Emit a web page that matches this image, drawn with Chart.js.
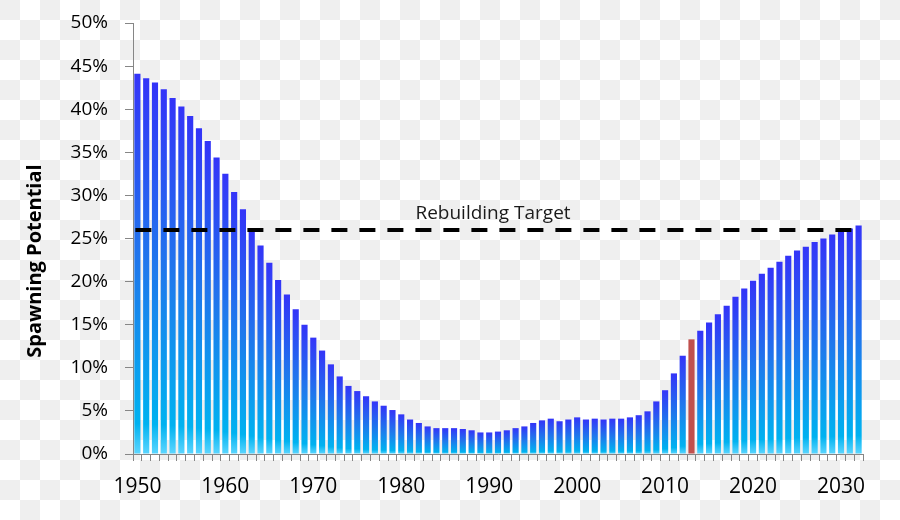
<!DOCTYPE html>
<html>
<head>
<meta charset="utf-8">
<script src="https://cdn.jsdelivr.net/npm/chart.js@4/dist/chart.umd.min.js"></script>
<style>
  html, body { margin: 0; padding: 0; background: #ffffff; }
  body { width: 900px; height: 520px; overflow: hidden; }
  canvas { display: block; }
</style>
</head>
<body>
<canvas id="c" width="900" height="520"></canvas>
<script>
// ---- data ----
const years = [];
for (let y = 1950; y <= 2032; y++) years.push(y);

const spawningPotential = [
  44.1, 43.6, 43.1, 42.3, 41.3, 40.3, 39.2, 37.8, 36.3, 34.4,   // 1950-1959
  32.5, 30.4, 28.4, 26.2, 24.2, 22.2, 20.2, 18.5, 16.8, 15.0,   // 1960-1969
  13.5, 12.0, 10.4, 9.0, 7.9, 7.3, 6.7, 6.1, 5.6, 5.1,          // 1970-1979
  4.6, 4.0, 3.6, 3.2, 3.0, 3.0, 3.0, 2.9, 2.75, 2.5,            // 1980-1989
  2.5, 2.6, 2.75, 3.0, 3.2, 3.6, 3.9, 4.1, 3.8, 4.0,            // 1990-1999
  4.25, 4.0, 4.1, 4.0, 4.1, 4.1, 4.25, 4.5, 4.95, 6.1,          // 2000-2009
  7.4, 9.35, 11.4, 13.3, 14.3, 15.25, 16.2, 17.2, 18.25, 19.2,  // 2010-2019
  20.1, 20.9, 21.6, 22.3, 23.0, 23.6, 24.05, 24.6, 25.0, 25.45, // 2020-2029
  25.8, 26.15, 26.5                                             // 2030-2032
];

const highlightYear = 2013;
const rebuildingTarget = 26;
const targetLabel = 'Rebuilding Target';
const yAxisTitle = 'Spawning Potential';
const yTickValues = [0, 5, 10, 15, 20, 25, 30, 35, 40, 45, 50];

// ---- styles ----
const FONT = '"Open Sans", "Noto Sans", sans-serif';
const AXIS_GRAY = '#868686';
const RED = '#C0504D';

function barColor(ctx) {
  const chart = ctx.chart;
  if (ctx.type !== 'data' || !chart.chartArea) return '#2A6CF0';
  if (years[ctx.dataIndex] === highlightYear) return RED;
  const ys = chart.scales.y;
  const top = ys.getPixelForValue(spawningPotential[ctx.dataIndex]);
  const bottom = ys.getPixelForValue(0);
  if (!isFinite(top) || !isFinite(bottom) || bottom - top < 1) return '#00B0F0';
  const g = chart.ctx.createLinearGradient(0, top, 0, bottom);
  g.addColorStop(0, '#3434F8');
  g.addColorStop(0.5, '#1F78EC');
  g.addColorStop(0.92, '#00B2F0');
  g.addColorStop(1, '#5CD6FF');
  return g;
}

const overlayPlugin = {
  id: 'overlay',
  beforeDraw(chart) {
    // checkerboard backdrop (transparent-background look of the reference)
    const {ctx, width, height} = chart;
    ctx.save();
    ctx.fillStyle = '#ffffff';
    ctx.fillRect(0, 0, width, height);
    ctx.fillStyle = '#efefef';
    for (let r = 0; r * 20 < height; r++) {
      for (let c = 0; c * 20 < width; c++) {
        if ((r + c) % 2 === 0) ctx.fillRect(c * 20, r * 20, 20, 20);
      }
    }
    ctx.restore();
  },
  afterDatasetsDraw(chart) {
    const {ctx, scales: {x, y}} = chart;
    const yPix = y.getPixelForValue(rebuildingTarget);
    const x0 = x.getPixelForValue(0);
    const x1 = x.getPixelForValue(years.length - 1);
    ctx.save();
    ctx.beginPath();
    ctx.setLineDash([16, 12]);
    ctx.lineWidth = 4;
    ctx.strokeStyle = '#000000';
    ctx.lineCap = 'butt';
    ctx.moveTo(x0 - 2, yPix);
    ctx.lineTo(x1, yPix);
    ctx.stroke();
    ctx.setLineDash([]);
    ctx.fillStyle = '#1a1a1a';
    ctx.font = '19px ' + FONT;
    ctx.textAlign = 'center';
    ctx.textBaseline = 'middle';
    const cx = (chart.chartArea.left + chart.chartArea.right) / 2 - 5;
    ctx.fillText(targetLabel, cx, yPix - 16);
    ctx.restore();
  },
  afterDraw(chart) {
    const {ctx} = chart;
    ctx.save();
    ctx.translate(35, 261);
    ctx.rotate(-Math.PI / 2);
    ctx.fillStyle = '#000000';
    ctx.font = 'bold 20px ' + FONT;
    ctx.textAlign = 'center';
    ctx.textBaseline = 'middle';
    ctx.fillText(yAxisTitle, 0, 0);
    ctx.restore();
  }
};

new Chart(document.getElementById('c'), {
  type: 'bar',
  data: {
    labels: years.map(String),
    datasets: [{
      label: yAxisTitle,
      data: spawningPotential,
      backgroundColor: barColor,
      borderWidth: 0,
      barPercentage: 0.7,
      categoryPercentage: 1.0
    }]
  },
  options: {
    responsive: false,
    animation: false,
    devicePixelRatio: 1,
    layout: { padding: { left: 0, right: 37, top: 23, bottom: 0 } },
    plugins: {
      legend: { display: false },
      tooltip: { enabled: false }
    },
    scales: {
      x: {
        offset: true,
        grid: { display: true, drawOnChartArea: false, drawTicks: true, tickLength: 7, color: AXIS_GRAY, offset: true },
        border: { display: true, color: AXIS_GRAY, width: 1 },
        ticks: {
          autoSkip: false,
          maxRotation: 0,
          minRotation: 0,
          padding: 13,
          color: '#000000',
          font: { family: FONT, size: 21 },
          callback: function (val, idx) { return years[idx] % 10 === 0 ? String(years[idx]) : ''; }
        },
        afterFit: (s) => { s.height = 66; s.paddingLeft = 0; s.paddingRight = 0; }
      },
      y: {
        min: 0,
        max: 50,
        afterBuildTicks: (s) => { s.ticks = yTickValues.map(v => ({ value: v })); },
        grid: { display: true, drawOnChartArea: false, drawTicks: true, tickLength: 8, color: AXIS_GRAY },
        border: { display: true, color: AXIS_GRAY, width: 1 },
        ticks: {
          padding: 17,
          color: '#000000',
          font: { family: FONT, size: 19 },
          callback: (v) => v + '%'
        },
        afterFit: (s) => { s.width = 133; s.paddingTop = 0; s.paddingBottom = 0; }
      }
    }
  },
  plugins: [overlayPlugin]
});
</script>
</body>
</html>
